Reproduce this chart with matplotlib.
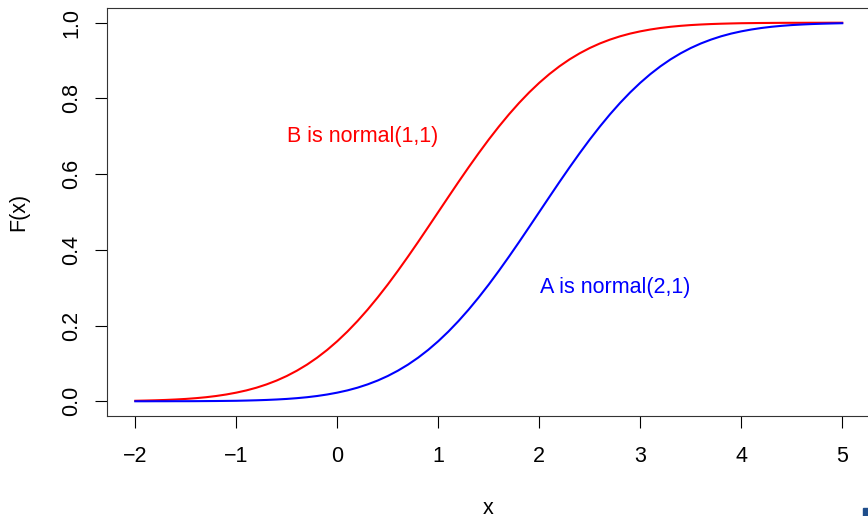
import matplotlib.pyplot as plt
from matplotlib.patches import Rectangle

# x grid (step 0.1 from -2 to 5) and CDF values
x = [round(i / 10, 1) for i in range(-20, 51)]
B = [0.0013, 0.0019, 0.0026, 0.0035, 0.0047, 0.0062, 0.0082, 0.0107, 0.0139,
     0.0179, 0.0228, 0.0287, 0.0359, 0.0446, 0.0548, 0.0668, 0.0808, 0.0968,
     0.1151, 0.1357, 0.1587, 0.1841, 0.2119, 0.2420, 0.2743, 0.3085, 0.3446,
     0.3821, 0.4207, 0.4602,
     0.5, 0.5398, 0.5793, 0.6179, 0.6554, 0.6915, 0.7257, 0.7580, 0.7881,
     0.8159, 0.8413, 0.8643, 0.8849, 0.9032, 0.9192, 0.9332, 0.9452, 0.9554,
     0.9641, 0.9713, 0.9772, 0.9821, 0.9861, 0.9893, 0.9918, 0.9938, 0.9953,
     0.9965, 0.9974, 0.9981, 0.9987, 0.9990, 0.9993, 0.9995, 0.9997, 0.9998,
     0.9998, 0.9999, 0.9999, 1.0, 1.0]
A = [0.0, 0.0, 0.0001, 0.0001, 0.0002, 0.0002, 0.0003, 0.0005, 0.0007, 0.0010,
     0.0013, 0.0019, 0.0026, 0.0035, 0.0047, 0.0062, 0.0082, 0.0107, 0.0139,
     0.0179, 0.0228, 0.0287, 0.0359, 0.0446, 0.0548, 0.0668, 0.0808, 0.0968,
     0.1151, 0.1357, 0.1587, 0.1841, 0.2119, 0.2420, 0.2743, 0.3085, 0.3446,
     0.3821, 0.4207, 0.4602,
     0.5, 0.5398, 0.5793, 0.6179, 0.6554, 0.6915, 0.7257, 0.7580, 0.7881,
     0.8159, 0.8413, 0.8643, 0.8849, 0.9032, 0.9192, 0.9332, 0.9452, 0.9554,
     0.9641, 0.9713, 0.9772, 0.9821, 0.9861, 0.9893, 0.9918, 0.9938, 0.9953,
     0.9965, 0.9974, 0.9981, 0.9987]

xticks = [-2, -1, 0, 1, 2, 3, 4, 5]
yticks = [0.0, 0.2, 0.4, 0.6, 0.8, 1.0]

plt.rcParams['font.family'] = ['Liberation Sans', 'DejaVu Sans']
fs = 15.5

fig = plt.figure(figsize=(8.68, 5.16), dpi=100)
ax = fig.add_axes([0.1233, 0.193, 0.8796, 0.7923])

ax.plot(x, B, color='red', lw=1.5)
ax.plot(x, A, color='blue', lw=1.5)

ax.text(0.25, 0.7, 'B is normal(1,1)', color='red', fontsize=fs,
        ha='center', va='center')
ax.text(2.75, 0.3, 'A is normal(2,1)', color='blue', fontsize=fs,
        ha='center', va='center')

ax.set_xlim(-2.28, 5.28)
ax.set_ylim(-0.04, 1.04)
ax.set_xticks(xticks)
ax.set_xticklabels(['\u2212' + str(-t) if t < 0 else str(t) for t in xticks])
ax.set_yticks(yticks)
ax.set_yticklabels(['%.1f' % t for t in yticks], rotation=90, va='center')
ax.tick_params(axis='both', direction='out', length=8.6, width=0.8,
               labelsize=fs, color='black')
ax.tick_params(axis='x', pad=13)
ax.tick_params(axis='y', pad=9)
for s in ax.spines.values():
    s.set_linewidth(0.8)
    s.set_color('#333333')

ax.set_xlabel('x', fontsize=fs)
ax.set_ylabel('F(x)', fontsize=fs)
ax.xaxis.label.set_verticalalignment('baseline')
ax.xaxis.set_label_coords(488 / 868, 2 / 516, transform=fig.transFigure)
ax.yaxis.set_label_coords(29 / 868, 0.5, transform=ax.transAxes)
ax.yaxis.set_label_coords(-0.102, 0.5)

# small square in the bottom-right corner
fig.patches.append(Rectangle((863.3 / 868, 0), 5 / 868, 8 / 516,
                             transform=fig.transFigure, color='#1f4e8c'))

fig.savefig('out.png', dpi=100)
